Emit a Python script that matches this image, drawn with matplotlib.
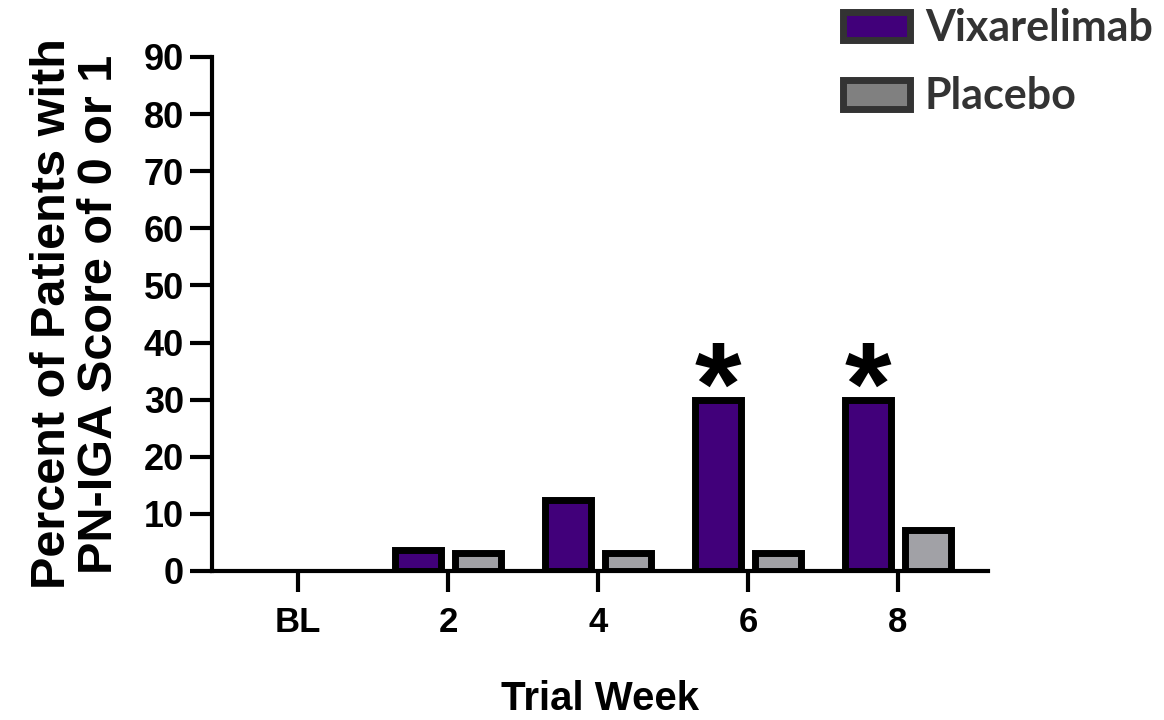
import matplotlib.pyplot as plt
import numpy as np
from matplotlib.patches import Patch

weeks = ['BL', '2', '4', '6', '8']
vixarelimab = [0, 3.7, 12.5, 30, 30]
placebo = [0, 3.2, 3.2, 3.2, 7.1]
significant = [False, False, False, True, True]

PURPLE = '#41007a'
GREY = '#a1a1a6'

plt.rcParams['font.family'] = ['Liberation Sans', 'DejaVu Sans']
plt.rcParams['font.weight'] = 'bold'

fig = plt.figure(figsize=(11.64, 7.2), dpi=100)
ax = fig.add_axes([212 / 1164, 1 - 571 / 720, (988 - 212) / 1164, (571 - 57) / 720])

x = np.arange(len(weeks))
w = 0.31
off = 0.2


def nonzero(vals):
    # a zero-height bar would still show its edge as a line, so leave it out
    v = np.array(vals, dtype=float)
    return np.where(v > 0, v, np.nan)


ax.bar(x - off, nonzero(vixarelimab), w, color=PURPLE, edgecolor='black', linewidth=5, zorder=3)
ax.bar(x + off, nonzero(placebo), w, color=GREY, edgecolor='black', linewidth=5, zorder=3)

# stars over the significant weeks
for xi, v, s in zip(x, vixarelimab, significant):
    if s:
        ax.annotate('*', (xi - off, v), xytext=(0, -18), textcoords='offset points',
                    ha='center', va='baseline', fontsize=86, fontweight='bold')

ax.set_xlim(-0.573, 4.6)
ax.set_ylim(0, 90)
ax.set_yticks(range(0, 91, 10))
ax.set_xticks(x)
ax.set_xticklabels(weeks)

for s in ['top', 'right']:
    ax.spines[s].set_visible(False)
for s in ['left', 'bottom']:
    ax.spines[s].set_linewidth(3)
ax.tick_params(axis='y', length=16, width=3, labelsize=26, pad=4)
ax.tick_params(axis='x', length=15, width=3, labelsize=25, pad=10)

ax.set_ylabel('Percent of Patients with\nPN-IGA Score of 0 or 1', fontsize=35,
              fontweight='bold', linespacing=1.05, labelpad=16)
ax.set_xlabel('Trial Week', fontsize=29, fontweight='bold', labelpad=30)

handles = [Patch(facecolor=PURPLE, edgecolor='#333333', linewidth=5),
           Patch(facecolor='#808080', edgecolor='#333333', linewidth=5)]
fig.legend(handles, ['Vixarelimab', 'Placebo'], loc='upper left',
           bbox_to_anchor=(843 / 1164, 1 - 8 / 720), frameon=False,
           prop={'family': 'Lato', 'weight': 'bold', 'size': 31},
           labelcolor='#333333', handlelength=1.55, handleheight=0.65,
           handletextpad=0.35, labelspacing=0.66, borderpad=0, borderaxespad=0)

fig.savefig('out.png', dpi=100)
